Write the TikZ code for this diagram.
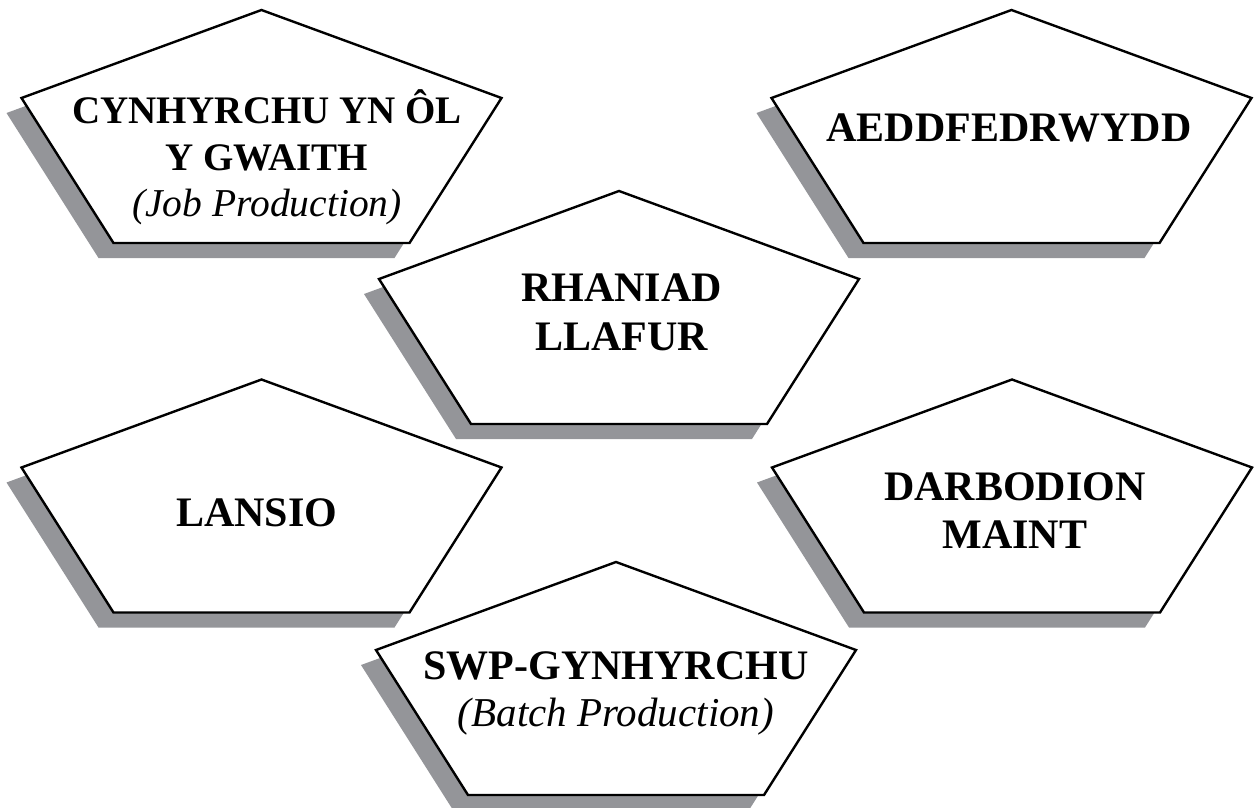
\documentclass[tikz,border=0pt]{standalone}
\usepackage{fontspec}
\setmainfont{Liberation Serif}
\definecolor{shadowgray}{RGB}{148,149,153}
\tikzset{
  pentashape/.pic={
    \fill[shadowgray] (-15,15) -- (225,103) -- (133,248) -- (-163,248) -- (-255,103) -- cycle;
    \draw[line width=2.4pt, fill=white, line join=miter] (0,0) -- (240,88) -- (148,233) -- (-148,233) -- (-240,88) -- cycle;
  },
  lbl/.style={anchor=base, inner sep=0pt, font=\fontsize{42}{48}\selectfont\bfseries},
  lblsmall/.style={anchor=base, inner sep=0pt, font=\fontsize{39}{47}\selectfont\bfseries},
  itl/.style={anchor=base, inner sep=0pt, font=\fontsize{41}{48}\selectfont\itshape},
  itlsmall/.style={anchor=base, inner sep=0pt, font=\fontsize{39.5}{47}\selectfont\itshape}
}
\begin{document}
\begin{tikzpicture}[x=1pt,y=-1pt]
\useasboundingbox (0,0) rectangle (1255,808);
% pentagons (apex positions)
\pic at (261.5,10) {pentashape};
\pic at (1011.5,10) {pentashape};
\pic at (619,191) {pentashape};
\pic at (261.5,379.5) {pentashape};
\pic at (1012,379.5) {pentashape};
\pic at (616,562) {pentashape};
% texts
\node[lblsmall] (t1a) at (267,123) {CYNHYRCHU YN ÔL};
\node[lblsmall] (t1b) at (267,170) {Y GWAITH};
\node[itlsmall] (t1c) at (267,216) {(Job Production)};
\node[lbl] (t2) at (1009,141.5) {AEDDFEDRWYDD};
\node[lbl] (t3a) at (621.5,301.5) {RHANIAD};
\node[lbl] (t3b) at (621.5,350) {LLAFUR};
\node[lbl] (t4) at (256.7,526) {LANSIO};
\node[lbl] (t5a) at (1015,500) {DARBODION};
\node[lbl] (t5b) at (1015,548) {MAINT};
\node[lbl] (t6a) at (616,679) {SWP-GYNHYRCHU};
\node[itl] (t6b) at (616,726) {(Batch Production)};
\end{tikzpicture}
\end{document}
